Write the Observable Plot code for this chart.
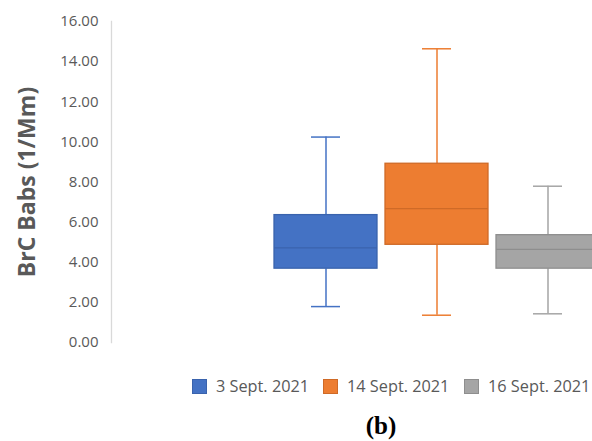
<!DOCTYPE html>
<html>
<head>
<meta charset="utf-8">
<script src="https://cdn.jsdelivr.net/npm/d3@7"></script>
<script src="https://cdn.jsdelivr.net/npm/@observablehq/plot@0.6"></script>
<style>
  html, body { margin: 0; padding: 0; background: #fff; width: 592px; height: 441px; overflow: hidden; position: relative; }
  #chart svg { display: block; }
  .legend { position: absolute; left: 0; top: 376px; width: 592px; height: 20px; font-family: "Open Sans", sans-serif; font-size: 16.3px; color: #595959; }
  .legend .item { position: absolute; top: 0; height: 20px; display: flex; align-items: center; white-space: nowrap; }
  .legend .sw { width: 15px; height: 15px; margin-right: 9px; box-sizing: border-box; border: 1px solid; }
  .caption { position: absolute; left: 331px; width: 100px; top: 411px; text-align: center; font-family: "Liberation Serif", serif; font-weight: bold; font-size: 25px; line-height: 30px; color: #000; }
</style>
</head>
<body>
<div id="chart"></div>
<div class="legend" id="legend"></div>
<div class="caption">(b)</div>
<script>
const dates = ["3 Sept. 2021", "14 Sept. 2021", "16 Sept. 2021"];
const mins = [1.79, 1.36, 1.43];
const q1s = [3.68, 4.87, 3.68];
const medians = [4.72, 6.67, 4.64];
const q3s = [6.35, 8.91, 5.35];
const maxs = [10.24, 14.64, 7.79];
const fills = ["#4472C4", "#ED7D31", "#A5A5A5"];
const strokes = ["#3A63AD", "#CF6A27", "#8E8E8E"];
const yTicks = [0, 2, 4, 6, 8, 10, 12, 14, 16];
const yLabel = "BrC Babs (1/Mm)";

const data = dates.map((d, i) => ({
  date: d, min: mins[i], q1: q1s[i], median: medians[i], q3: q3s[i], max: maxs[i]
}));

const strokeOf = d => strokes[dates.indexOf(d.date)];

const chart = Plot.plot({
  width: 592,
  height: 355,
  marginTop: 21,
  marginBottom: 13,
  marginLeft: 111,
  marginRight: 0,
  style: {fontFamily: "'Open Sans', sans-serif", fontSize: "15px", color: "#595959", background: "#fff"},
  x: {type: "band", domain: dates, range: [269.6, 603.8], paddingInner: 0.075, paddingOuter: 0.0375, axis: null},
  y: {domain: [0, 16], ticks: yTicks, tickFormat: d3.format(".2f"), label: null},
  color: {domain: dates, range: fills},
  marks: [
    Plot.axisY({ticks: yTicks, tickSize: 0, tickPadding: 13, tickFormat: d3.format(".2f"), fill: "#595959", label: null}),
    Plot.frame({anchor: "left", stroke: "#D9D9D9", strokeWidth: 1.3}),
    Plot.text([yLabel], {frameAnchor: "left", dx: -84, rotate: -90, textAnchor: "middle", fontSize: 23, fontWeight: "bold", fill: "#595959", text: d => d, style: "letter-spacing: 0.7px"}),
    Plot.ruleX(data, {x: "date", y1: "min", y2: "q1", stroke: "date", strokeWidth: 1.5}),
    Plot.ruleX(data, {x: "date", y1: "q3", y2: "max", stroke: "date", strokeWidth: 1.5}),
    Plot.tickY(data, {x: "date", y: "min", stroke: "date", strokeWidth: 1.5, insetLeft: 37, insetRight: 37}),
    Plot.tickY(data, {x: "date", y: "max", stroke: "date", strokeWidth: 1.5, insetLeft: 37, insetRight: 37}),
    Plot.barY(data, {x: "date", y1: "q1", y2: "q3", fill: "date", stroke: strokeOf, strokeWidth: 1.3}),
    Plot.tickY(data, {x: "date", y: "median", stroke: strokeOf, strokeWidth: 1.3})
  ]
});
document.getElementById("chart").appendChild(chart);

const legend = document.getElementById("legend");
const lefts = [192, 323, 464];
dates.forEach((d, i) => {
  const item = document.createElement("div");
  item.className = "item";
  item.style.left = lefts[i] + "px";
  const sw = document.createElement("span");
  sw.className = "sw";
  sw.style.background = fills[i];
  sw.style.borderColor = strokes[i];
  const t = document.createElement("span");
  t.textContent = d;
  item.appendChild(sw);
  item.appendChild(t);
  legend.appendChild(item);
});
</script>
</body>
</html>
